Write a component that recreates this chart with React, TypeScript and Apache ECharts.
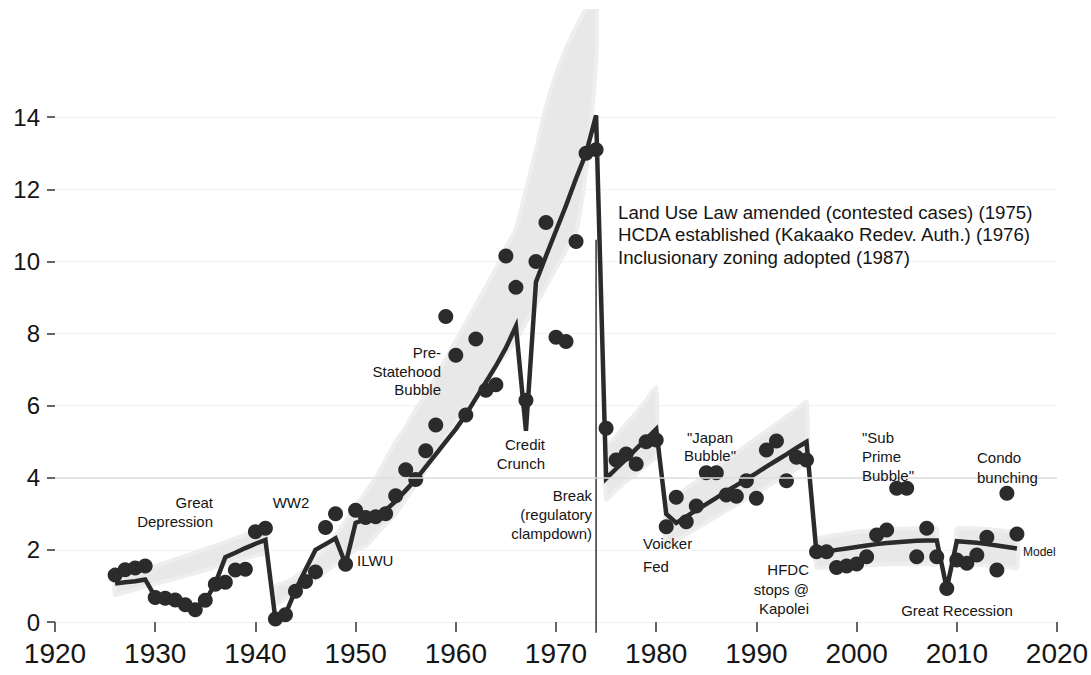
import React, { useEffect, useRef } from "react";
import * as echarts from "echarts";

// ---------- DATA ----------
const years = [
  1926, 1927, 1928, 1929, 1930, 1931, 1932, 1933, 1934, 1935, 1936, 1937, 1938, 1939, 1940, 1941,
  1942, 1943, 1944, 1945, 1946, 1947, 1948, 1949, 1950, 1951, 1952, 1953, 1954, 1955, 1956, 1957,
  1958, 1959, 1960, 1961, 1962, 1963, 1964, 1965, 1966, 1967, 1968, 1969, 1970, 1971, 1972, 1973,
  1974, 1975, 1976, 1977, 1978, 1979, 1980, 1981, 1982, 1983, 1984, 1985, 1986, 1987, 1988, 1989,
  1990, 1991, 1992, 1993, 1994, 1995, 1996, 1997, 1998, 1999, 2000, 2001, 2002, 2003, 2004, 2005,
  2006, 2007, 2008, 2009, 2010, 2011, 2012, 2013, 2014, 2015, 2016,
];

const observed = [
  1.3, 1.45, 1.5, 1.55, 0.68, 0.66, 0.61, 0.48, 0.34, 0.6, 1.05, 1.1, 1.44, 1.46, 2.5, 2.6,
  0.08, 0.2, 0.85, 1.12, 1.39, 2.62, 3.0, 1.6, 3.1, 2.9, 2.92, 3.0, 3.5, 4.22, 3.95, 4.75,
  5.46, 8.47, 7.4, 5.74, 7.85, 6.43, 6.58, 10.15, 9.28, 6.15, 10.0, 11.08, 7.9, 7.78, 10.55, 13.0,
  13.1, 5.37, 4.49, 4.66, 4.38, 5.0, 5.05, 2.64, 3.46, 2.78, 3.22, 4.14, 4.14, 3.52, 3.49, 3.92,
  3.43, 4.77, 5.02, 3.92, 4.57, 4.49, 1.95, 1.95, 1.51, 1.55, 1.61, 1.81, 2.41, 2.55, 3.71, 3.71,
  1.81, 2.6, 1.81, 0.93, 1.72, 1.63, 1.86, 2.35, 1.44, 3.57, 2.44,
];

const model = [
  1.07, 1.1, 1.13, 1.18, 0.7, 0.68, 0.62, 0.5, 0.35, 0.58, 1.07, 1.8, 1.92, 2.05, 2.17, 2.28,
  0.07, 0.22, 0.88, 1.45, 2.0, 2.16, 2.32, 1.6, 2.75, 2.85, 2.95, 3.1, 3.35, 3.65, 3.95, 4.3,
  4.65, 5.0, 5.35, 5.75, 6.2, 6.65, 7.1, 7.6, 8.2, 5.3, 9.43, 10.15, 10.85, 11.55, 12.3, 13.0,
  14.05, 3.98, 4.25, 4.52, 4.8, 5.07, 5.35, 3.0, 2.75, 2.92, 3.1, 3.27, 3.44, 3.62, 3.79, 3.96,
  4.13, 4.31, 4.48, 4.65, 4.83, 5.0, 1.9, 1.95, 2.0, 2.04, 2.08, 2.12, 2.16, 2.19, 2.21, 2.23,
  2.25, 2.26, 2.26, 0.93, 2.24, 2.22, 2.2, 2.16, 2.12, 2.08, 2.04,
];

// confidence bands (separate regimes)
const bandAYears = [1926, 1927, 1928, 1929, 1930, 1931, 1932, 1933, 1934, 1935, 1936, 1937, 1938, 1939, 1940, 1941];
const bandALower = [0.75, 0.82, 0.9, 0.98, 1.05, 1.13, 1.2, 1.28, 1.36, 1.44, 1.52, 1.6, 1.68, 1.76, 1.84, 1.92];
const bandAUpper = [1.15, 1.25, 1.35, 1.45, 1.55, 1.64, 1.74, 1.83, 1.93, 2.03, 2.12, 2.22, 2.32, 2.42, 2.51, 2.6];

const bandBYears = [
  1942, 1943, 1944, 1945, 1946, 1947, 1948, 1949, 1950, 1951, 1952, 1953, 1954, 1955, 1956, 1957,
  1958, 1959, 1960, 1961, 1962, 1963, 1964, 1965, 1966, 1967, 1968, 1969, 1970, 1971, 1972, 1973, 1974,
];
const bandBLower = [
  0.5, 0.65, 0.8, 1.0, 1.2, 1.4, 1.6, 1.8, 2.0, 2.1, 2.4, 2.7, 3.0, 3.4, 3.8, 4.2,
  4.7, 5.1, 5.5, 5.9, 6.3, 6.7, 7.1, 7.45, 7.8, 8.3, 8.8, 9.3, 9.8, 10.3, 10.8, 12.5, 15.5,
];
const bandBUpper = [
  1.0, 1.1, 1.25, 1.5, 1.8, 2.0, 2.4, 2.8, 3.2, 3.6, 4.0, 4.5, 5.0, 5.4, 5.9, 6.3,
  6.8, 7.3, 7.8, 8.3, 8.8, 9.3, 9.8, 10.4, 10.9, 12.0, 13.1, 14.3, 15.2, 15.9, 16.5, 17.0, 17.3,
];

const bandCYears = [1975, 1976, 1977, 1978, 1979, 1980];
const bandCLower = [3.4, 3.65, 3.9, 4.1, 4.35, 4.6];
const bandCUpper = [4.8, 5.15, 5.5, 5.8, 6.15, 6.5];

const bandDYears = [1981, 1982, 1983, 1984, 1985, 1986, 1987, 1988, 1989, 1990, 1991, 1992, 1993, 1994, 1995];
const bandDLower = [2.1, 2.26, 2.43, 2.59, 2.76, 2.92, 3.09, 3.25, 3.41, 3.58, 3.74, 3.91, 4.07, 4.24, 4.4];
const bandDUpper = [3.3, 3.5, 3.7, 3.9, 4.1, 4.3, 4.5, 4.7, 4.9, 5.1, 5.3, 5.5, 5.7, 5.9, 6.1];

const bandEYears = [1996, 1997, 1998, 1999, 2000, 2001, 2002, 2003, 2004, 2005, 2006, 2007, 2008];
const bandELower = [1.5, 1.52, 1.54, 1.56, 1.57, 1.58, 1.59, 1.6, 1.6, 1.6, 1.6, 1.6, 1.6];
const bandEUpper = [2.3, 2.37, 2.42, 2.46, 2.5, 2.53, 2.55, 2.57, 2.58, 2.59, 2.6, 2.6, 2.6];

const bandFYears = [2010, 2011, 2012, 2013, 2014, 2015, 2016];
const bandFLower = [1.6, 1.6, 1.59, 1.57, 1.55, 1.53, 1.5];
const bandFUpper = [2.6, 2.6, 2.6, 2.58, 2.55, 2.52, 2.5];

const breakYear = 1974;
const breakTop = 10.6;
const breakBottom = -0.3;

const yTickValues = [0, 2, 4, 6, 8, 10, 12, 14];

const bands = [
  { years: bandAYears, lower: bandALower, upper: bandAUpper },
  { years: bandBYears, lower: bandBLower, upper: bandBUpper },
  { years: bandCYears, lower: bandCLower, upper: bandCUpper },
  { years: bandDYears, lower: bandDLower, upper: bandDUpper },
  { years: bandEYears, lower: bandELower, upper: bandEUpper },
  { years: bandFYears, lower: bandFLower, upper: bandFUpper },
];

// ---------- CHART ----------
const FONT = '"Liberation Sans", Arial, sans-serif';
const INK = "#151515";
const MARK = "#2b2b2b";

function txt(text: string, x: number, y: number, align: string, size = 15, lineHeight = 19) {
  return {
    type: "text",
    x,
    y,
    z: 100,
    silent: true,
    style: {
      text,
      fill: INK,
      fontSize: size,
      fontFamily: FONT,
      lineHeight,
      align,
      verticalAlign: "middle",
      textAlign: align,
      textVerticalAlign: "middle",
    },
  };
}

export default function App() {
  const ref = useRef<HTMLDivElement>(null);

  useEffect(() => {
    document.body.style.margin = "0";
    if (!ref.current) return;
    const chart = echarts.init(ref.current, null, { renderer: "svg" });

    const obsData = years.map((y, i) => [y, observed[i]]);
    const modelData = years.map((y, i) => [y, model[i]]);

    const option: any = {
      animation: false,
      backgroundColor: "#ffffff",
      grid: { left: 55, right: 34, top: 9, bottom: 53, containLabel: false, outerBoundsMode: "none" },
      xAxis: {
        type: "value",
        min: 1920,
        max: 2020,
        interval: 10,
        axisLine: { show: false },
        axisTick: { show: true, length: 10, lineStyle: { color: "#333", width: 1.5 } },
        splitLine: { show: false },
        axisLabel: {
          color: INK,
          fontSize: 28,
          fontFamily: FONT,
          margin: 17,
          formatter: (v: number) => String(v),
        },
      },
      yAxis: {
        type: "value",
        min: 0,
        max: 17,
        interval: 2,
        axisLine: { show: false },
        axisTick: {
          show: true,
          length: 8,
          customValues: yTickValues,
          lineStyle: { color: "#333", width: 1.5 },
        },
        splitLine: { show: true, lineStyle: { color: "#f1f1f1", width: 1 } },
        axisLabel: {
          color: INK,
          fontSize: 24,
          fontFamily: FONT,
          margin: 15,
          customValues: yTickValues,
        },
      },
      series: [
        {
          type: "custom",
          name: "band",
          clip: true,
          z: 1,
          silent: true,
          encode: { x: 0, y: 1 },
          data: bands.map((b) => [b.years[0], b.lower[0]]),
          renderItem: (params: any, api: any) => {
            const b = bands[params.dataIndex];
            const top = b.years.map((yr, i) => api.coord([yr, b.upper[i]]));
            const bot = b.years.map((yr, i) => api.coord([yr, b.lower[i]])).reverse();
            return {
              type: "polygon",
              shape: { points: top.concat(bot), smooth: 0.2 },
              style: { fill: "#e8e8e8", stroke: "#eeeeee", lineWidth: 4 },
            };
          },
        },
        {
          type: "line",
          name: "break",
          z: 2,
          clip: false,
          silent: true,
          symbol: "none",
          data: [
            [breakYear, breakTop],
            [breakYear, breakBottom],
          ],
          lineStyle: { color: "#333", width: 1.5 },
        },
        {
          type: "line",
          name: "Model",
          z: 3,
          symbol: "none",
          data: modelData,
          lineStyle: { color: MARK, width: 4.5, join: "miter" },
          markLine: {
            silent: true,
            symbol: "none",
            label: { show: false },
            lineStyle: { color: "#dedede", width: 1.5, type: "solid" },
            data: [{ yAxis: 4 }],
          },
        },
        {
          type: "scatter",
          name: "observed",
          z: 4,
          symbol: "circle",
          symbolSize: 15,
          data: obsData,
          itemStyle: { color: MARK, opacity: 1 },
        },
      ],
      graphic: [
        txt("Great\nDepression", 213, 512, "right"),
        txt("WW2", 291, 502, "center"),
        txt("ILWU", 357, 560, "left"),
        txt("Pre-\nStatehood\nBubble", 441, 371, "right", 15, 18.5),
        txt("Credit\nCrunch", 545, 454, "right", 15, 18.5),
        txt("Break\n(regulatory\nclampdown)", 592, 514, "right"),
        txt(
          "Land Use Law amended (contested cases) (1975)\nHCDA established (Kakaako Redev. Auth.) (1976)\nInclusionary zoning adopted (1987)",
          618,
          234.5,
          "left",
          18.7,
          22.5
        ),
        txt("Voicker\nFed", 643, 555, "left", 15, 23.4),
        txt('"Japan\nBubble"', 710, 446, "center", 15, 18),
        txt("HFDC\nstops @\nKapolei", 809, 589, "right", 15, 19.5),
        txt('"Sub\nPrime\nBubble"', 862, 456, "left"),
        txt("Condo\nbunching", 977, 467, "left", 15, 20),
        txt("Great Recession", 957, 610, "center"),
        txt("Model", 1023, 552, "left", 12),
      ],
    };

    chart.setOption(option);
    return () => chart.dispose();
  }, []);

  return <div ref={ref} style={{ width: 1091, height: 675 }} />;
}
